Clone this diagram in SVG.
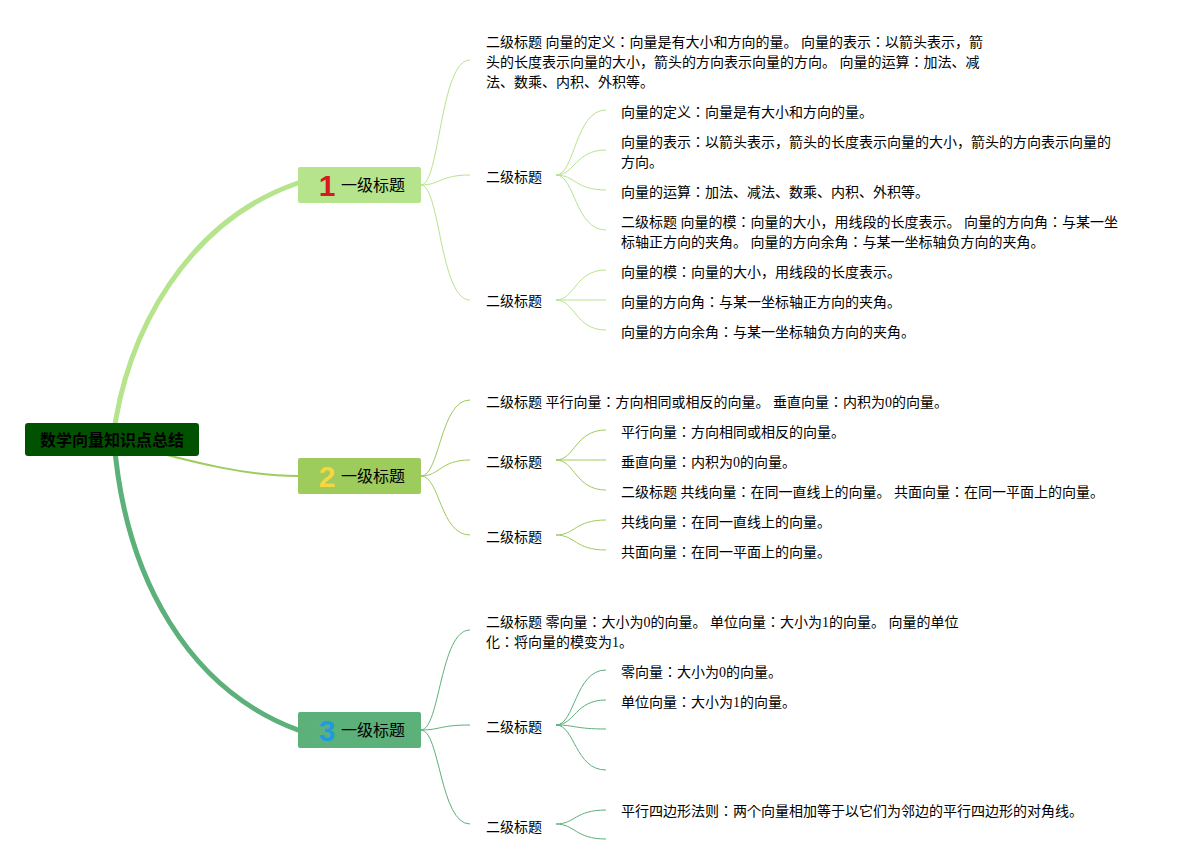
<svg xmlns="http://www.w3.org/2000/svg" width="1181" height="865" viewBox="0 0 1181 865">
<style>
.t{font-family:"Liberation Serif","Noto Sans CJK JP",serif;font-size:14px;fill:#000}
.l1{font-family:"Noto Sans CJK SC",sans-serif;font-size:16px;fill:#000}
.num{font-family:"Liberation Sans",Arial,sans-serif;font-size:30px;font-weight:bold;text-anchor:middle}
.root{font-family:"Noto Sans CJK SC",sans-serif;font-size:16px;font-weight:bold;fill:#000;text-anchor:middle}
.c1{fill:none;stroke:#b6e48c;stroke-width:1}
.c2{fill:none;stroke:#9dcb5c;stroke-width:1}
.c3{fill:none;stroke:#5cb07a;stroke-width:1}
</style>
<rect width="1181" height="865" fill="#fff"/>
<g id="connectors">
<path d="M113,440 C125,330 190,220 298,183" fill="none" stroke="#b6e48c" stroke-width="5" stroke-linecap="round"/>
<path d="M112,440 C200,465 250,476 298,476" fill="none" stroke="#9dcb5c" stroke-width="2"/>
<path d="M114,440 C125,580 190,690 298,730" fill="none" stroke="#5cb07a" stroke-width="5" stroke-linecap="round"/>
<g class="c1">
<path d="M421,185 C440,185 440,60 470,60"/>
<path d="M421,185 C440,185 440,175 470,175"/>
<path d="M421,185 C440,185 440,300 470,300"/>
<path d="M556,175 C575,175 575,110 606,110"/>
<path d="M556,175 C575,175 575,150 606,150"/>
<path d="M556,175 C575,175 575,190 606,190"/>
<path d="M556,175 C575,175 575,230 606,230"/>
<path d="M556,300 C575,300 575,270 606,270"/>
<path d="M556,300 C575,300 575,300 606,300"/>
<path d="M556,300 C575,300 575,330 606,330"/>
</g>
<g class="c2">
<path d="M421,476 C440,476 440,400 470,400"/>
<path d="M421,476 C440,476 440,460 470,460"/>
<path d="M421,476 C440,476 440,535 470,535"/>
<path d="M556,460 C575,460 575,430 606,430"/>
<path d="M556,460 C575,460 575,460 606,460"/>
<path d="M556,460 C575,460 575,490 606,490"/>
<path d="M556,535 C575,535 575,520 606,520"/>
<path d="M556,535 C575,535 575,550 606,550"/>
</g>
<g class="c3">
<path d="M421,730 C440,730 440,630 470,630"/>
<path d="M421,730 C440,730 440,725 470,725"/>
<path d="M421,730 C440,730 440,824 470,824"/>
<path d="M556,725 C575,725 575,670 606,670"/>
<path d="M556,725 C575,725 575,700 606,700"/>
<path d="M556,725 C575,725 575,729 606,729"/>
<path d="M556,725 C575,725 575,770 606,770"/>
<path d="M556,824 C575,824 575,810 606,810"/>
<path d="M556,824 C575,824 575,839 606,839"/>
</g>
</g>
<g id="root">
<rect x="25" y="423" width="174" height="33" rx="3" fill="#005200"/>
<text class="root" x="112" y="446">数学向量知识点总结</text>
</g>
<g id="n1">
<rect x="298" y="167" width="123" height="36" rx="2" fill="#b6e48c"/>
<text class="num" x="327" y="196" fill="#d71920">1</text>
<text class="l1" x="341" y="191">一级标题</text>
</g>
<g id="n2">
<rect x="298" y="458" width="123" height="36" rx="2" fill="#9dcb5c"/>
<text class="num" x="327" y="487" fill="#f5d742">2</text>
<text class="l1" x="341" y="482">一级标题</text>
</g>
<g id="n3">
<rect x="298" y="712" width="123" height="36" rx="2" fill="#5cb07a"/>
<text class="num" x="327" y="741" fill="#1e9be0">3</text>
<text class="l1" x="341" y="736">一级标题</text>
</g>
<g id="n1a"><text class="t" x="486" y="47">二级标题 向量的定义：向量是有大小和方向的量。 向量的表示：以箭头表示，箭</text><text class="t" x="486" y="67">头的长度表示向量的大小，箭头的方向表示向量的方向。 向量的运算：加法、减</text><text class="t" x="486" y="87">法、数乘、内积、外积等。</text></g>
<g id="n1b"><text class="t" x="486" y="182">二级标题</text></g>
<g id="n1b1"><text class="t" x="621" y="117">向量的定义：向量是有大小和方向的量。</text></g>
<g id="n1b2"><text class="t" x="621" y="147">向量的表示：以箭头表示，箭头的长度表示向量的大小，箭头的方向表示向量的</text><text class="t" x="621" y="167">方向。</text></g>
<g id="n1b3"><text class="t" x="621" y="197">向量的运算：加法、减法、数乘、内积、外积等。</text></g>
<g id="n1b4"><text class="t" x="621" y="227">二级标题 向量的模：向量的大小，用线段的长度表示。 向量的方向角：与某一坐</text><text class="t" x="621" y="247">标轴正方向的夹角。 向量的方向余角：与某一坐标轴负方向的夹角。</text></g>
<g id="n1c"><text class="t" x="486" y="306">二级标题</text></g>
<g id="n1c1"><text class="t" x="621" y="277">向量的模：向量的大小，用线段的长度表示。</text></g>
<g id="n1c2"><text class="t" x="621" y="307">向量的方向角：与某一坐标轴正方向的夹角。</text></g>
<g id="n1c3"><text class="t" x="621" y="337">向量的方向余角：与某一坐标轴负方向的夹角。</text></g>
<g id="n2a"><text class="t" x="486" y="407">二级标题 平行向量：方向相同或相反的向量。 垂直向量：内积为0的向量。</text></g>
<g id="n2b"><text class="t" x="486" y="467">二级标题</text></g>
<g id="n2b1"><text class="t" x="621" y="437">平行向量：方向相同或相反的向量。</text></g>
<g id="n2b2"><text class="t" x="621" y="467">垂直向量：内积为0的向量。</text></g>
<g id="n2b3"><text class="t" x="621" y="497">二级标题 共线向量：在同一直线上的向量。 共面向量：在同一平面上的向量。</text></g>
<g id="n2c"><text class="t" x="486" y="542">二级标题</text></g>
<g id="n2c1"><text class="t" x="621" y="527">共线向量：在同一直线上的向量。</text></g>
<g id="n2c2"><text class="t" x="621" y="557">共面向量：在同一平面上的向量。</text></g>
<g id="n3a"><text class="t" x="486" y="627">二级标题 零向量：大小为0的向量。 单位向量：大小为1的向量。 向量的单位</text><text class="t" x="486" y="647">化：将向量的模变为1。</text></g>
<g id="n3b"><text class="t" x="486" y="732">二级标题</text></g>
<g id="n3b1"><text class="t" x="621" y="677">零向量：大小为0的向量。</text></g>
<g id="n3b2"><text class="t" x="621" y="707">单位向量：大小为1的向量。</text></g>
<g id="n3c"><text class="t" x="486" y="832">二级标题</text></g>
<g id="n3c1"><text class="t" x="621" y="816">平行四边形法则：两个向量相加等于以它们为邻边的平行四边形的对角线。</text></g>
</svg>
